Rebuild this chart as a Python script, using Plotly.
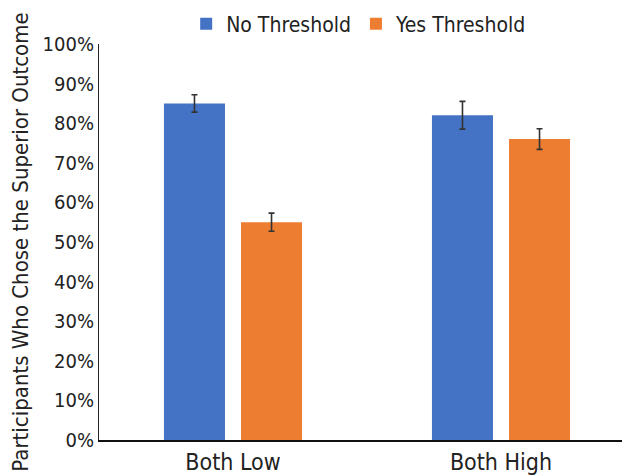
import plotly.graph_objects as go

categories = ["Both Low", "Both High"]
no_threshold = [85, 82]
no_threshold_err = [2.2, 3.5]
yes_threshold = [55, 76]
yes_threshold_err = [2.3, 2.6]
series_names = ["No Threshold", "Yes Threshold"]
y_ticks = [0, 10, 20, 30, 40, 50, 60, 70, 80, 90, 100]
y_tick_labels = [f"{v}%" for v in y_ticks]

FONT = "DejaVu Sans Condensed, Liberation Sans Narrow, sans-serif"
TXT = "#222222"

fig = go.Figure()
fig.add_trace(go.Bar(
    x=categories, y=no_threshold, name=series_names[0],
    marker=dict(color="#4472C4", line=dict(width=0)),
    error_y=dict(type="data", array=no_threshold_err, color="#333333", thickness=1.6, width=3),
))
fig.add_trace(go.Bar(
    x=categories, y=yes_threshold, name=series_names[1],
    marker=dict(color="#ED7D31", line=dict(width=0)),
    error_y=dict(type="data", array=yes_threshold_err, color="#333333", thickness=1.6, width=3),
))

fig.update_layout(
    width=630, height=476,
    margin=dict(l=91, r=8, t=36, b=43.5, autoexpand=False),
    paper_bgcolor="white", plot_bgcolor="white",
    font=dict(family=FONT, size=20, color=TXT),
    barmode="group", bargap=0.425, bargroupgap=0.208,
    showlegend=True,
    legend=dict(orientation="h", x=0.49, xanchor="center",
                yref="container", y=1 - 16/476, yanchor="middle",
                font=dict(family=FONT, size=21, color=TXT),
                itemwidth=30, tracegroupgap=0),
    xaxis=dict(
        range=[-0.5, -0.5 + 531/268],
        showline=True, linecolor="#111111", linewidth=2,
        ticks="", showgrid=False, zeroline=False,
        tickfont=dict(family=FONT, size=23, color=TXT),
    ),
    yaxis=dict(
        range=[0, 100], tickmode="array", tickvals=y_ticks, ticktext=y_tick_labels,
        showline=True, linecolor="#222222", linewidth=1,
        ticks="", showgrid=False, zeroline=False,
        tickfont=dict(family=FONT, size=20, color=TXT),
        title=dict(text="Participants Who Chose the Superior Outcome",
                   font=dict(family=FONT, size=22, color=TXT), standoff=12),
    ),
)

fig.write_html("out.html")
